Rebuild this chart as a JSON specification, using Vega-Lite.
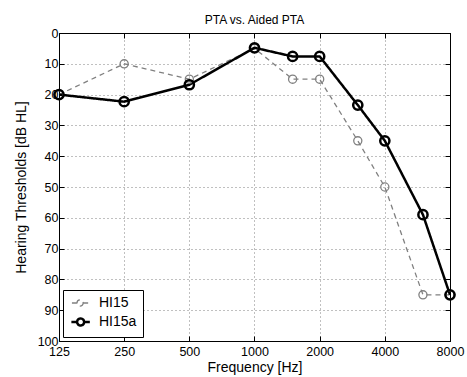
{
  "$schema": "https://vega.github.io/schema/vega-lite/v6.json",
  "autosize": {"type": "none"},
  "padding": {"left": 59, "top": 33, "right": 18, "bottom": 36},
  "width": 391,
  "height": 308,
  "background": "white",
  "title": {"text": "PTA vs. Aided PTA", "fontSize": 12, "fontWeight": "normal", "font": "Liberation Sans", "color": "black", "offset": 0, "anchor": "middle"},
  "config": {
    "view": {"stroke": "black", "strokeWidth": 1},
    "axis": {"labelFont": "Liberation Sans", "titleFont": "Liberation Sans", "labelColor": "black", "titleColor": "black", "tickColor": "black", "domainColor": "black", "labelFontSize": 12.5, "titleFontSize": 14, "titleFontWeight": "normal", "labelFlush": false, "labelOverlap": false, "labelBound": false, "gridColor": "#808080", "gridDash": [1, 3], "gridWidth": 1, "gridOpacity": 1}
  },
  "data": {"values": [
    {"freq": 125, "db": 20, "series": "HI15"},
    {"freq": 250, "db": 10, "series": "HI15"},
    {"freq": 500, "db": 15, "series": "HI15"},
    {"freq": 1000, "db": 5, "series": "HI15"},
    {"freq": 1500, "db": 15, "series": "HI15"},
    {"freq": 2000, "db": 15, "series": "HI15"},
    {"freq": 3000, "db": 35, "series": "HI15"},
    {"freq": 4000, "db": 50, "series": "HI15"},
    {"freq": 6000, "db": 85, "series": "HI15"},
    {"freq": 8000, "db": 85, "series": "HI15"},
    {"freq": 125, "db": 20, "series": "HI15a"},
    {"freq": 250, "db": 22.3, "series": "HI15a"},
    {"freq": 500, "db": 16.8, "series": "HI15a"},
    {"freq": 1000, "db": 4.8, "series": "HI15a"},
    {"freq": 1500, "db": 7.6, "series": "HI15a"},
    {"freq": 2000, "db": 7.6, "series": "HI15a"},
    {"freq": 3000, "db": 23.4, "series": "HI15a"},
    {"freq": 4000, "db": 35, "series": "HI15a"},
    {"freq": 6000, "db": 59, "series": "HI15a"},
    {"freq": 8000, "db": 85, "series": "HI15a"}
  ]},
  "resolve": {"axis": {"x": "independent", "y": "independent"}},
  "layer": [
    {
      "mark": {"type": "line", "clip": true},
      "encoding": {
        "x": {"field": "freq", "type": "quantitative", "scale": {"type": "log", "base": 2, "domain": [125, 8000], "nice": false},
              "axis": {"orient": "bottom", "values": [125, 250, 500, 1000, 2000, 4000, 8000], "format": "d", "grid": true, "tickSize": -5, "labelPadding": 9, "title": "Frequency [Hz]", "titlePadding": 3}},
        "y": {"field": "db", "type": "quantitative", "scale": {"domain": [0, 100], "reverse": true, "nice": false},
              "axis": {"orient": "left", "values": [0, 10, 20, 30, 40, 50, 60, 70, 80, 90, 100], "grid": true, "tickSize": -5, "labelPadding": 6, "title": "Hearing Thresholds [dB HL]", "titlePadding": 9}},
        "color": {"field": "series", "type": "nominal", "scale": {"domain": ["HI15", "HI15a"], "range": ["#808080", "#000000"]},
                  "legend": {"title": null, "orient": "bottom-left", "offset": 4, "strokeColor": "black", "fillColor": "white", "padding": 6, "rowPadding": 3, "labelFont": "Liberation Sans", "labelFontSize": 14, "labelColor": "black", "labelOffset": 16,
                             "symbolType": "M-1,0H0.24M1.76,0H3M1.76,0A0.76,0.76 0 1,1 0.24,0A0.76,0.76 0 1,1 1.76,0",
                             "symbolSize": 729,
                             "encode": {"symbols": {"update": {"fill": {"value": "transparent"}, "size": {"value": 729}, "strokeDash": {"value": [1, 0]}, "strokeWidth": {"signal": "datum.value === 'HI15a' ? 2.5 : 1.3"}, "opacity": {"value": 1}}}}}},
        "strokeDash": {"field": "series", "type": "nominal", "scale": {"domain": ["HI15", "HI15a"], "range": [[5, 4], [1, 0]]}, "legend": null},
        "strokeWidth": {"field": "series", "type": "nominal", "scale": {"domain": ["HI15", "HI15a"], "range": [1.3, 2.5]}, "legend": null}
      }
    },
    {
      "mark": {"type": "point", "shape": "circle", "filled": false, "opacity": 1, "clip": false},
      "encoding": {
        "x": {"field": "freq", "type": "quantitative", "axis": {"orient": "top", "values": [125, 250, 500, 1000, 2000, 4000, 8000], "labels": false, "grid": false, "tickSize": -5, "title": null}},
        "y": {"field": "db", "type": "quantitative", "axis": {"orient": "right", "values": [0, 10, 20, 30, 40, 50, 60, 70, 80, 90, 100], "labels": false, "grid": false, "tickSize": -5, "title": null}},
        "color": {"field": "series", "type": "nominal"},
        "strokeWidth": {"field": "series", "type": "nominal", "legend": null},
        "size": {"field": "series", "type": "nominal", "scale": {"domain": ["HI15", "HI15a"], "range": [66, 85]}, "legend": null}
      }
    }
  ]
}
